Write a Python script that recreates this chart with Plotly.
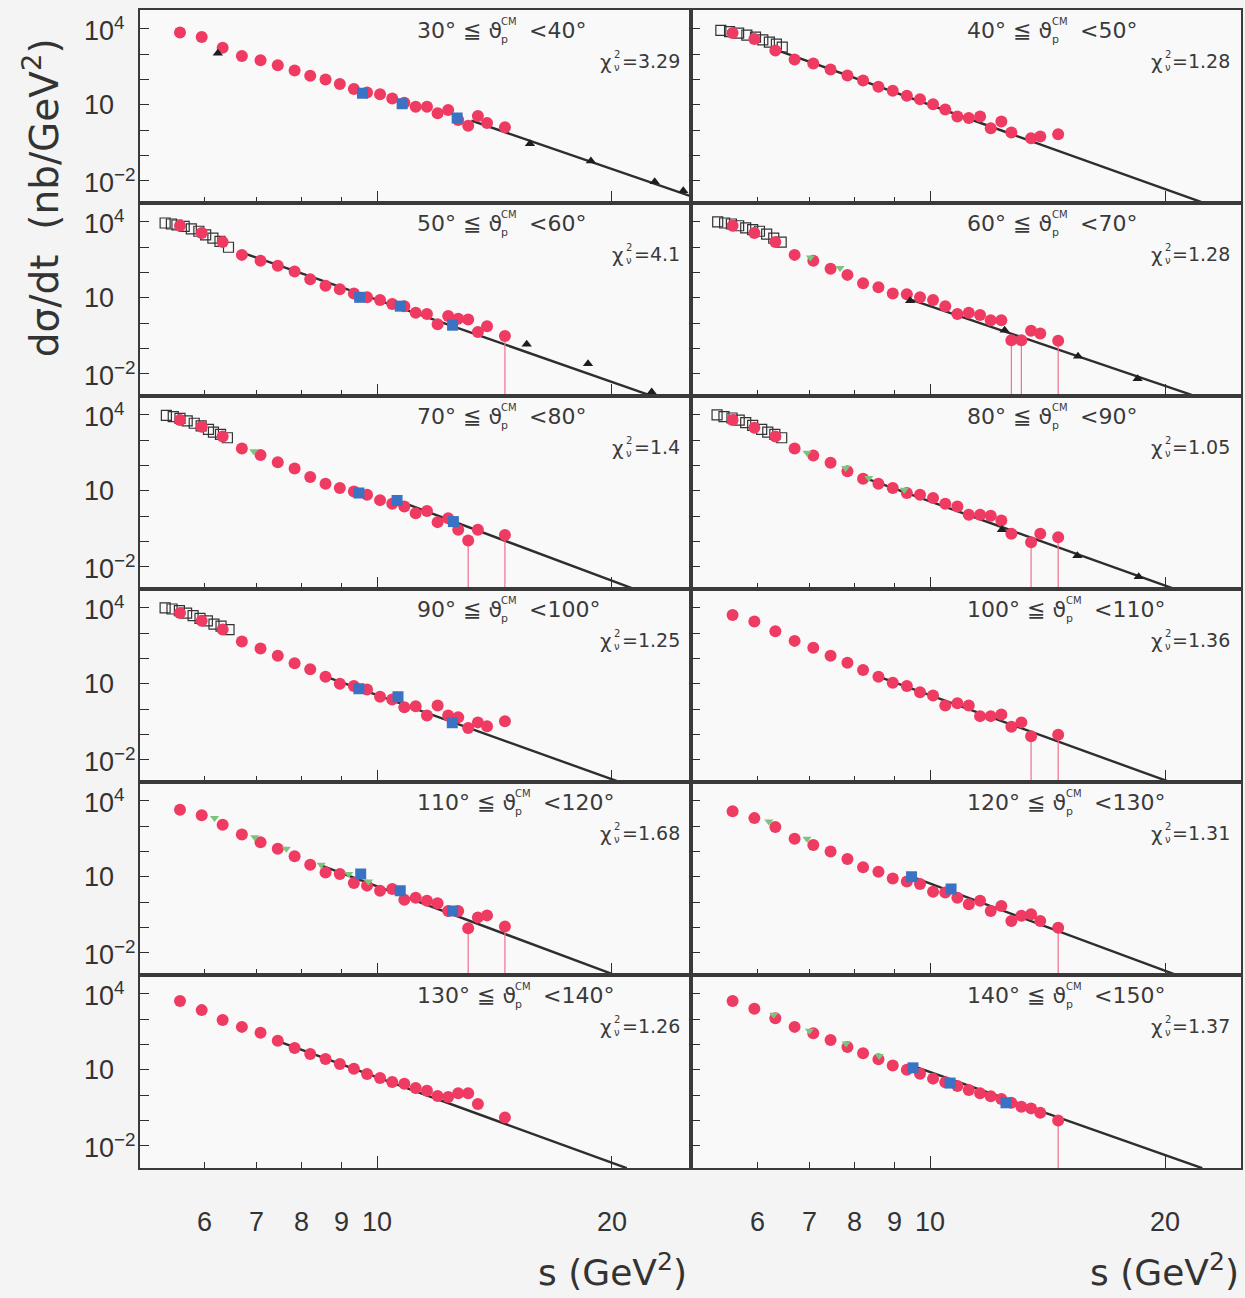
import math
import plotly.graph_objects as go
from plotly.subplots import make_subplots

# ---------------- data ----------------
# common s values (GeV^2) of the red points
S_GRID = [5.58, 5.95, 6.33, 6.70, 7.08, 7.45, 7.83, 8.20, 8.58, 8.95, 9.33, 9.70,
          10.08, 10.45, 10.83, 11.20, 11.58, 11.95, 12.33, 12.70, 13.08, 13.46,
          13.83, 14.21, 14.58]

LABELS = [(30, 40), (40, 50), (50, 60), (60, 70), (70, 80), (80, 90),
          (90, 100), (100, 110), (110, 120), (120, 130), (130, 140), (140, 150)]
CHI2 = ["3.29", "1.28", "4.1", "1.28", "1.4", "1.05",
        "1.25", "1.36", "1.68", "1.31", "1.26", "1.37"]

red_30 = [7300, 4800, 1800, 850, 580, 370, 230, 140, 100, 67, 42, 31, 26, 18, 12, 8.5, 8.5, 4.7, 6.3, 2.5, 1.5, 3.6, 1.9, None, 1.3]
red_40 = [6900, 4000, 1400, 620, 430, 250, 145, 91, 52, 36, 23, 16.6, 10.5, 6.6, 3.5, 3.0, 3.5, 1.2, 2.2, 0.81, None, 0.48, 0.56, None, 0.69]
red_50 = [7100, 3700, 1600, 500, 290, 184, 110, 54, 30, 22, 15, 10.5, 8.2, 5.7, 4.7, 2.6, 2.3, 0.91, 1.9, 1.5, 1.4, 0.45, 0.76, None, 0.31]
red_60 = [7100, 3700, 1600, 500, 290, 140, 81, 38, 26, 15, 13.8, 10.5, 8.2, 4.7, 2.3, 2.6, 2.1, 1.3, 1.3, 0.21, 0.21, 0.5, 0.39, None, 0.2]
red_70 = [6300, 3400, 1400, 470, 260, 136, 76, 35, 19, 13, 9.5, 7.0, 4.3, 3.1, 2.4, 1.3, 1.6, 0.58, 0.83, 0.29, 0.11, 0.29, None, None, 0.18]
red_80 = [6300, 3100, 1400, 470, 250, 128, 60, 30, 19, 13, 8.2, 7.0, 5.2, 3.1, 2.4, 1.13, 1.13, 1.03, 0.67, 0.2, None, 0.093, 0.2, None, 0.147]
red_90 = [6300, 3100, 1400, 470, 250, 128, 65, 38, 19, 10.2, 8.2, 6.0, 3.1, 2.4, 1.2, 1.3, 0.56, 1.4, 0.56, 0.48, 0.18, 0.30, 0.21, None, 0.33]
red_100 = [5300, 2900, 1200, 500, 270, 128, 69, 35, 19, 11, 8.2, 4.7, 3.5, 1.4, 1.7, 1.4, 0.53, 0.53, 0.61, 0.2, 0.3, 0.085, None, None, 0.098]
red_110 = [4500, 2700, 1150, 470, 235, 128, 65, 30, 15, 13, 5.7, 4.5, 2.8, 3.3, 1.24, 1.5, 1.13, 0.91, 0.45, 0.45, 0.093, 0.25, 0.30, None, 0.108]
red_120 = [3900, 2100, 930, 320, 180, 100, 51, 24, 16, 8.7, 6.6, 5.2, 2.6, 2.4, 1.5, 0.83, 1.13, 0.45, 0.71, 0.18, 0.29, 0.33, 0.18, None, 0.098]
red_130 = [5300, 2300, 940, 500, 290, 140, 73, 42, 27, 17, 11, 6.9, 4.8, 3.3, 2.8, 1.9, 1.5, 0.93, 0.85, 1.2, 1.2, 0.45, None, None, 0.13]
red_140 = [5300, 2600, 1100, 500, 280, 150, 80, 45, 26, 15, 10, 7.0, 4.5, 3.2, 2.3, 1.6, 1.2, 0.9, 0.7, 0.5, 0.35, 0.3, 0.2, None, 0.1]

# indices of red points whose lower error reaches zero
drop_50 = [24]
drop_60 = [19, 20, 24]
drop_70 = [20, 24]
drop_80 = [21, 24]
drop_100 = [21, 24]
drop_110 = [20, 24]
drop_120 = [24]
drop_140 = [24]

# open squares (older low-energy data)
open_40_s = [5.39, 5.53, 5.68, 5.82, 5.97, 6.10, 6.22, 6.35, 6.46]
open_40_y = [8800, 7800, 6900, 5700, 4800, 3700, 3000, 2500, 1900]
open_50_s = [5.34, 5.44, 5.53, 5.65, 5.77, 5.90, 6.02, 6.15, 6.28, 6.44]
open_50_y = [9100, 8300, 7600, 6700, 5300, 4300, 3100, 2300, 1700, 1000]
open_60_s = [5.34, 5.45, 5.56, 5.68, 5.80, 5.92, 6.04, 6.17, 6.30, 6.44]
open_60_y = [10000, 9100, 8300, 7100, 5800, 5000, 4300, 3300, 2300, 1600]
open_70_s = [5.36, 5.47, 5.58, 5.70, 5.82, 5.94, 6.07, 6.16, 6.29, 6.42]
open_70_y = [9700, 8600, 7400, 5800, 4700, 3700, 2700, 2100, 1700, 1260]
open_80_s = [5.33, 5.44, 5.57, 5.69, 5.80, 5.92, 6.08, 6.19, 6.32, 6.45]
open_80_y = [10000, 8600, 7600, 6300, 5000, 3900, 2700, 2100, 1700, 1260]
open_90_s = [5.34, 5.45, 5.57, 5.69, 5.80, 5.92, 6.05, 6.17, 6.30, 6.45]
open_90_y = [10000, 9100, 7800, 6300, 5000, 3900, 3100, 2300, 1900, 1400]

# blue squares
blue_30_s = [9.57, 10.76, 12.66]
blue_30_y = [29, 11, 3.0]
blue_50_s = [9.49, 10.7, 12.49]
blue_50_y = [10.5, 4.7, 0.83]
blue_70_s = [9.47, 10.6, 12.52]
blue_70_y = [8.2, 4.2, 0.61]
blue_90_s = [9.47, 10.63, 12.48]
blue_90_y = [6.4, 3.1, 0.29]
blue_110_s = [9.52, 10.7, 12.49]
blue_110_y = [13, 2.8, 0.45]
blue_120_s = [9.46, 10.63]
blue_120_y = [10.2, 3.3]
blue_140_s = [9.5, 10.6, 12.5]
blue_140_y = [12, 3.0, 0.5]

# green triangles
green_60_s = [7.02, 7.66]
green_60_y = [390, 150]
green_70_s = [6.94]
green_70_y = [370]
green_80_s = [6.95, 7.79, 8.34, 9.26]
green_80_y = [320, 81, 32, 11]
green_110_s = [6.18, 6.96, 7.64, 8.47, 9.19, 9.74]
green_110_y = [2100, 370, 128, 30, 13, 6.6]
green_120_s = [6.21, 6.95]
green_120_y = [1560, 320]
green_140_s = [6.3, 7.0, 7.8, 8.6]
green_140_y = [1500, 350, 110, 35]

# black triangles
black_30_s = [6.24, 15.7, 18.8, 22.7, 24.7]
black_30_y = [1100, 0.29, 0.061, 0.0092, 0.0040]
black_50_s = [15.55, 18.64, 22.5]
black_50_y = [0.147, 0.025, 0.0019]
black_60_s = [9.42, 12.45, 15.46, 18.43]
black_60_y = [7.7, 0.53, 0.049, 0.0063]
black_80_s = [12.35, 15.43, 18.49]
black_80_y = [0.29, 0.027, 0.004]

# fit lines (end points)
fit_30 = ([13.2, 25.3], [2.4, 0.0024])
fit_40 = ([6.32, 22.7], [1570, 0.00115])
fit_50 = ([6.73, 22.4], [590, 0.0014])
fit_60 = ([9.42, 21.7], [8.7, 0.0014])
fit_70 = ([10.6, 21.7], [4.2, 0.0011])
fit_80 = ([8.2, 20.9], [34, 0.0011])
fit_90 = ([8.6, 20.8], [19, 0.0011])
fit_100 = ([8.6, 20.6], [19, 0.0011])
fit_110 = ([8.43, 20.5], [30, 0.0011])
fit_120 = ([9.46, 21.0], [10.2, 0.0011])
fit_130 = ([7.39, 20.9], [150, 0.0013])
fit_140 = ([9.51, 22.3], [14, 0.0013])

X_TICKS = [6, 7, 8, 9, 10, 20]
Y_LABEL_VALS = [1e4, 10, 1e-2]
Y_LABEL_TEXT = ["10<sup>4</sup>", "10", "10<sup>−2</sup>"]

panels = [
    dict(red=red_30, drop=[], blue=(blue_30_s, blue_30_y), black=(black_30_s, black_30_y), fit=fit_30),
    dict(red=red_40, drop=[], open=(open_40_s, open_40_y), fit=fit_40),
    dict(red=red_50, drop=drop_50, open=(open_50_s, open_50_y), blue=(blue_50_s, blue_50_y),
         black=(black_50_s, black_50_y), fit=fit_50),
    dict(red=red_60, drop=drop_60, open=(open_60_s, open_60_y), green=(green_60_s, green_60_y),
         black=(black_60_s, black_60_y), fit=fit_60),
    dict(red=red_70, drop=drop_70, open=(open_70_s, open_70_y), blue=(blue_70_s, blue_70_y),
         green=(green_70_s, green_70_y), fit=fit_70),
    dict(red=red_80, drop=drop_80, open=(open_80_s, open_80_y), green=(green_80_s, green_80_y),
         black=(black_80_s, black_80_y), fit=fit_80),
    dict(red=red_90, drop=[], open=(open_90_s, open_90_y), blue=(blue_90_s, blue_90_y), fit=fit_90),
    dict(red=red_100, drop=drop_100, fit=fit_100),
    dict(red=red_110, drop=drop_110, blue=(blue_110_s, blue_110_y), green=(green_110_s, green_110_y), fit=fit_110),
    dict(red=red_120, drop=drop_120, blue=(blue_120_s, blue_120_y), green=(green_120_s, green_120_y), fit=fit_120),
    dict(red=red_130, drop=[], fit=fit_130),
    dict(red=red_140, drop=drop_140, blue=(blue_140_s, blue_140_y), green=(green_140_s, green_140_y), fit=fit_140),
]

RED = "#ef3a62"
BLUE = "#3b73c4"
GREEN = "#7cc47e"
DARK = "#2e2e2e"
TXT = "#3a3a3a"
FONT = "Liberation Sans, Arial, Helvetica, sans-serif"
WFONT = "DejaVu Sans, Verdana, sans-serif"

PW = 551.5  # panel width in px
PH = 193.0  # panel height in px

fig = make_subplots(rows=6, cols=2, horizontal_spacing=0, vertical_spacing=0)


def ann(i, x_px, y_px, text, size, anchor="left", family=WFONT):
    """annotation placed in panel i at pixel offsets from the panel's top-left corner"""
    sfx = "" if i == 0 else str(i + 1)
    fig.add_annotation(xref=f"x{sfx} domain", yref=f"y{sfx} domain",
                       x=x_px / PW, y=1 - y_px / PH, xanchor=anchor, yanchor="middle",
                       showarrow=False, text=text, font=dict(size=size, color=TXT, family=family))


for i, p in enumerate(panels):
    r, c = i // 2 + 1, i % 2 + 1
    fs, fy = p["fit"]
    fig.add_trace(go.Scatter(x=fs, y=fy, mode="lines", line=dict(color=DARK, width=2.4),
                             hoverinfo="skip"), row=r, col=c)
    if "open" in p:
        fig.add_trace(go.Scatter(x=p["open"][0], y=p["open"][1], mode="markers",
                                 marker=dict(symbol="square-open", size=10, color="#333333",
                                             line=dict(width=1.2))), row=r, col=c)
    ys = p["red"]
    minus = [(v - 1e-6) if (k in p["drop"] and v is not None) else 0 for k, v in enumerate(ys)]
    fig.add_trace(go.Scatter(x=S_GRID, y=ys, mode="markers",
                             marker=dict(symbol="circle", size=12, color=RED),
                             error_y=dict(type="data", symmetric=False, array=[0] * len(ys),
                                          arrayminus=minus, color="#f07090", thickness=1.2, width=0)),
                  row=r, col=c)
    if "blue" in p:
        fig.add_trace(go.Scatter(x=p["blue"][0], y=p["blue"][1], mode="markers",
                                 marker=dict(symbol="square", size=11, color=BLUE)), row=r, col=c)
    if "green" in p:
        fig.add_trace(go.Scatter(x=p["green"][0], y=p["green"][1], mode="markers",
                                 marker=dict(symbol="triangle-down", size=8, color=GREEN)), row=r, col=c)
    if "black" in p:
        fig.add_trace(go.Scatter(x=p["black"][0], y=p["black"][1], mode="markers",
                                 marker=dict(symbol="triangle-up", size=9, color="#1e1e1e")), row=r, col=c)

    # angular-range label:  lo° ≦ ϑ_p^CM < hi°
    lo, hi = LABELS[i]
    fsz = 22
    x0 = 275.0
    w_left = (0.636 * len(str(lo)) + 0.5 + 0.318 + 0.838 + 0.318 + 0.62) * fsz
    ann(i, x0, 20, f"{lo}° ≦ ϑ", fsz)
    ann(i, x0 + w_left, 11, "CM", 10)
    ann(i, x0 + w_left, 29, "p", 11)
    ann(i, x0 + w_left + 28, 20, f"<{hi}°", fsz)

    # chi2 label:  χ^2_ν = value
    csz = 19
    xr = PW - 9
    nd = sum(ch.isdigit() for ch in CHI2[i])
    w_val = (0.838 + 0.636 * nd + 0.318) * csz
    ann(i, xr, 51, f"={CHI2[i]}", csz, anchor="right")
    ann(i, xr - w_val - 1, 44, "2", 10, anchor="right")
    ann(i, xr - w_val - 1, 57, "ν", 10, anchor="right")
    ann(i, xr - w_val - 9, 52, "χ", csz + 1, anchor="right")

    # y tick labels (left column only)
    if c == 1:
        sfx = "" if i == 0 else str(i + 1)
        for v, t in zip(Y_LABEL_VALS, Y_LABEL_TEXT):
            fig.add_annotation(xref="paper", yref=f"y{sfx}", x=-58 / 1103, y=math.log10(v),
                               xanchor="left", yanchor="middle", showarrow=False, text=t,
                               font=dict(size=27, color="#333333", family=FONT))

YT = [1e-2, 1e-1, 1, 10, 100, 1e3, 1e4]

for i in range(12):
    r, c = i // 2 + 1, i % 2 + 1
    xr = [0.6953, 1.402] if c == 1 else [0.6927, 1.398]
    fig.update_xaxes(type="log", range=xr, tickvals=[10, 20], ticks="inside", ticklen=12,
                     tickwidth=1.3, tickcolor=DARK, showticklabels=False, showgrid=False,
                     zeroline=False, showline=True, mirror=True, linecolor="#3a3a3a", linewidth=2,
                     minor=dict(tickvals=[6, 7, 8, 9], ticks="inside", ticklen=6,
                                tickwidth=1.3, tickcolor=DARK, showgrid=False),
                     row=r, col=c)
    fig.update_yaxes(type="log", range=[-2.88, 4.75], tickvals=YT,
                     ticks="inside", ticklen=9, tickwidth=1.3, tickcolor=DARK,
                     showticklabels=False, showgrid=False, zeroline=False,
                     showline=True, mirror=True, linecolor="#3a3a3a", linewidth=2,
                     row=r, col=c)

# x tick labels below the bottom row
for axname in ("x11", "x12"):
    for v in X_TICKS:
        fig.add_annotation(xref=axname, yref="paper", x=math.log10(v), y=-54 / 1158,
                           xanchor="center", yanchor="middle", showarrow=False, text=str(v),
                           font=dict(size=27, color="#333333", family=FONT))

for xp in (550 / 1103, 1.0):
    fig.add_annotation(xref="paper", yref="paper", x=xp, y=-102 / 1158, xanchor="right",
                       yanchor="middle", showarrow=False, text="s (GeV<sup>2</sup>)",
                       font=dict(size=36, color="#333333", family=WFONT))
fig.add_annotation(xref="paper", yref="paper", x=-99 / 1103, y=(1168 - 198) / 1158,
                   xanchor="center", yanchor="middle", showarrow=False, textangle=-90,
                   text="dσ/dt  (nb/GeV<sup>2</sup>)",
                   font=dict(size=39, color="#333333", family=WFONT))

fig.update_layout(width=1245, height=1298, margin=dict(l=140, r=2, t=10, b=130),
                  paper_bgcolor="#f4f4f4", plot_bgcolor="#f9f9fa", showlegend=False,
                  font=dict(family=FONT, color="#333333"))

fig.write_html("out.html", config={"displayModeBar": False},
               post_script="document.body.style.margin='0px';")
